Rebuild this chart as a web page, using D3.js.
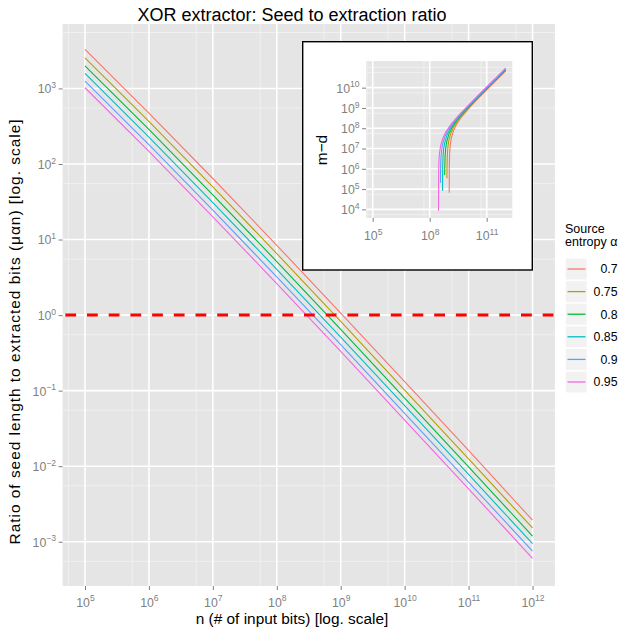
<!DOCTYPE html>
<html><head><meta charset="utf-8">
<script src="https://cdn.jsdelivr.net/npm/d3@7"></script>
<style>
body{margin:0;background:#fff}
text{font-family:"Liberation Sans",Arial,Helvetica,sans-serif}
</style>
</head><body>
<svg id="c" width="620" height="631"></svg>
<script>
// ---------------- DATA ----------------
const alphas = ["0.7", "0.75", "0.8", "0.85", "0.9", "0.95"];
const colors = ["#F8766D", "#B79F00", "#00BA38", "#00BFC4", "#619CFF", "#F564E3"];
// n values of the main plot, as log10(n)
const nExp = [5, 6, 7, 8, 9, 10, 11, 12];
// main series: log10 of seed/extracted ratio, read at each n
const ratioExp070 = [3.516, 2.674, 1.808, 0.924, 0.027, -0.882, -1.792, -2.715];
const ratioExp075 = [3.406, 2.564, 1.698, 0.814, -0.083, -0.992, -1.902, -2.818];
const ratioExp080 = [3.300, 2.458, 1.592, 0.708, -0.189, -1.098, -2.008, -2.926];
const ratioExp085 = [3.198, 2.356, 1.490, 0.606, -0.291, -1.200, -2.110, -3.025];
const ratioExp090 = [3.098, 2.256, 1.390, 0.506, -0.391, -1.300, -2.210, -3.124];
const ratioExp095 = [3.009, 2.167, 1.301, 0.417, -0.480, -1.389, -2.299, -3.220];
const refLine = 1;
// inset series: log10(n) and log10(m-d)
const insetN070  = [9.0291, 9.0345, 9.051, 9.0845, 9.140, 9.251, 9.417, 9.694, 10.134, 10.5, 11, 11.5, 12];
const insetMD070 = [4.82, 6.167, 6.776, 7.189, 7.516, 7.870, 8.196, 8.577, 9.057, 9.422, 9.895, 10.361, 10.826];
const insetN075  = [8.9076, 8.913, 8.9295, 8.963, 9.0185, 9.1295, 9.2955, 9.5725, 10.0125, 10.5, 11, 11.5, 12];
const insetMD075 = [5.53, 6.087, 6.696, 7.109, 7.436, 7.790, 8.116, 8.497, 8.977, 9.457, 9.927, 10.392, 10.856];
const insetN080  = [8.7901, 8.7955, 8.812, 8.8455, 8.901, 9.012, 9.178, 9.455, 9.895, 10.5, 11, 11.5, 12];
const insetMD080 = [5.69, 6.009, 6.618, 7.031, 7.358, 7.712, 8.038, 8.419, 8.899, 9.488, 9.956, 10.420, 10.884];
const insetN085  = [8.6771, 8.6825, 8.699, 8.7325, 8.788, 8.899, 9.065, 9.342, 9.782, 10.5, 11, 11.5, 12];
const insetMD085 = [4.92, 5.933, 6.542, 6.955, 7.282, 7.636, 7.962, 8.343, 8.823, 9.517, 9.983, 10.447, 10.911];
const insetN090  = [8.5661, 8.5715, 8.588, 8.6215, 8.677, 8.788, 8.954, 9.231, 9.671, 10.5, 11, 11.5, 12];
const insetMD090 = [5.31, 5.858, 6.467, 6.880, 7.207, 7.561, 7.887, 8.268, 8.748, 9.544, 10.009, 10.472, 10.935];
const insetN095  = [8.4661, 8.4715, 8.488, 8.5215, 8.577, 8.688, 8.854, 9.131, 9.571, 10.5, 11, 11.5, 12];
const insetMD095 = [3.93, 5.793, 6.402, 6.815, 7.142, 7.496, 7.822, 8.203, 8.683, 9.569, 10.033, 10.496, 10.959];
// ticks (exponents)
const xTickExp = [5, 6, 7, 8, 9, 10, 11, 12];
const yTickExp = [-3, -2, -1, 0, 1, 2, 3];
const insetXTickExp = [5, 8, 11];
const insetYTickExp = [4, 5, 6, 7, 8, 9, 10];
const titleText = "XOR extractor: Seed to extraction ratio";
const xTitle = "n (# of input bits) [log. scale]";
const yTitle = "Ratio of seed length to extracted bits (\u03BC\u03B1n) [log. scale]";
const insetYTitle = "m\u2212d";
const legendTitle = ["Source", "entropy \u03B1"];

// ---------------- DRAW ----------------
const p10 = e => Math.pow(10, e);
const ratioSeries = [ratioExp070, ratioExp075, ratioExp080, ratioExp085, ratioExp090, ratioExp095];
const insetNs = [insetN070, insetN075, insetN080, insetN085, insetN090, insetN095];
const insetMDs = [insetMD070, insetMD075, insetMD080, insetMD085, insetMD090, insetMD095];

const svg = d3.select("#c");
const GRID_BG = "#E5E5E5", MINOR = "#F2F2F2", AXIS_TXT = "#7F7F7F";

function expLabel(sel, e, size) {
  sel.text(null);
  sel.append("tspan").text("10");
  sel.append("tspan").attr("dy", -size * 0.42).attr("font-size", size * 0.7)
     .text(e < 0 ? "\u2212" + Math.abs(e) : String(e));
}

function panel(g, P, xs, ys, xMaj, yMaj, xMin, yMin) {
  g.append("rect").attr("x", P.l).attr("y", P.t).attr("width", P.r - P.l).attr("height", P.b - P.t).attr("fill", GRID_BG);
  g.selectAll("line.xmin").data(xMin).join("line").attr("x1", d => xs(d)).attr("x2", d => xs(d))
    .attr("y1", P.t).attr("y2", P.b).attr("stroke", MINOR).attr("stroke-width", 0.9);
  g.selectAll("line.ymin").data(yMin).join("line").attr("y1", d => ys(d)).attr("y2", d => ys(d))
    .attr("x1", P.l).attr("x2", P.r).attr("stroke", MINOR).attr("stroke-width", 0.9);
  g.selectAll("line.xmaj").data(xMaj).join("line").attr("x1", d => xs(d)).attr("x2", d => xs(d))
    .attr("y1", P.t).attr("y2", P.b).attr("stroke", "#fff").attr("stroke-width", 1.6);
  g.selectAll("line.ymaj").data(yMaj).join("line").attr("y1", d => ys(d)).attr("y2", d => ys(d))
    .attr("x1", P.l).attr("x2", P.r).attr("stroke", "#fff").attr("stroke-width", 1.6);
}

function axes(g, P, xs, ys, xT, yT, fs, xLabY) {
  const ax = g.append("g").attr("transform", `translate(0,${P.b})`)
    .call(d3.axisBottom(xs).tickValues(xT.map(p10)).tickSize(4).tickFormat(""));
  ax.select(".domain").remove();
  ax.selectAll(".tick line").attr("stroke", AXIS_TXT);
  ax.selectAll(".tick").append("text").attr("y", xLabY - P.b).attr("text-anchor", "middle")
    .attr("fill", AXIS_TXT).attr("font-size", fs)
    .each(function(d) { expLabel(d3.select(this), Math.round(Math.log10(d)), fs); });
  const ay = g.append("g").attr("transform", `translate(${P.l},0)`)
    .call(d3.axisLeft(ys).tickValues(yT.map(p10)).tickSize(4).tickFormat(""));
  ay.select(".domain").remove();
  ay.selectAll(".tick line").attr("stroke", AXIS_TXT);
  ay.selectAll(".tick").append("text").attr("x", -6.5).attr("y", fs * 0.36).attr("text-anchor", "end")
    .attr("fill", AXIS_TXT).attr("font-size", fs)
    .each(function(d) { expLabel(d3.select(this), Math.round(Math.log10(d)), fs); });
}

// ---- main panel ----
const P = { l: 62.6, r: 554.9, t: 24, b: 586 };
const x = d3.scaleLog().domain([p10(4.65), p10(12.35)]).range([P.l, P.r]);
const y = d3.scaleLog().domain([p10(-3.586), p10(3.853)]).range([P.b, P.t]);
const main = svg.append("g");
const inDom = (s, v) => { const d = s.domain(); return v >= d[0] && v <= d[1]; };
const xMinor = d3.range(4, 13).map(k => 5.5 * p10(k)).filter(v => inDom(x, v));
const yMinor = d3.range(-4, 4).map(k => 5.5 * p10(k)).filter(v => inDom(y, v));
panel(main, P, x, y, xTickExp.map(p10), yTickExp.map(p10), xMinor, yMinor);
axes(main, P, x, y, xTickExp, yTickExp, 12.3, 606.5);

svg.append("defs").append("clipPath").attr("id", "clipMain").append("rect")
  .attr("x", P.l).attr("y", P.t).attr("width", P.r - P.l).attr("height", P.b - P.t);
const lineMain = d3.line().x(d => x(p10(d[0]))).y(d => y(p10(d[1])));
const lg = main.append("g").attr("clip-path", "url(#clipMain)");
ratioSeries.forEach((s, i) => {
  lg.append("path").attr("d", lineMain(nExp.map((n, j) => [n, s[j]])))
    .attr("fill", "none").attr("stroke", colors[i]).attr("stroke-width", 1.1);
});
lg.append("line").attr("x1", P.l).attr("x2", P.r).attr("y1", y(refLine)).attr("y2", y(refLine))
  .attr("stroke", "#FF0000").attr("stroke-width", 3).attr("stroke-dasharray", "10.8,10.9")
  .attr("stroke-dashoffset", -2.7);

// titles
svg.append("text").attr("x", 292).attr("y", 21).attr("text-anchor", "middle").attr("font-size", 18).text(titleText);
svg.append("text").attr("x", 292).attr("y", 624).attr("text-anchor", "middle").attr("font-size", 15.4).text(xTitle);
svg.append("text").attr("transform", "translate(20,332) rotate(-90)").attr("text-anchor", "middle")
  .attr("font-size", 15.4).attr("textLength", 425).attr("lengthAdjust", "spacing").text(yTitle);

// ---- legend ----
const leg = svg.append("g");
leg.append("text").attr("x", 565).attr("y", 233).attr("font-size", 12.5).text(legendTitle[0]);
leg.append("text").attr("x", 565).attr("y", 246).attr("font-size", 12.5).text(legendTitle[1]);
alphas.forEach((a, i) => {
  const cy = 269 + i * 22.6;
  leg.append("rect").attr("x", 565.5).attr("y", cy - 10.8).attr("width", 21.5).attr("height", 21.6)
    .attr("fill", "#F2F2F2").attr("stroke", "#fff").attr("stroke-width", 0.6);
  leg.append("line").attr("x1", 567.5).attr("x2", 585.5).attr("y1", cy).attr("y2", cy)
    .attr("stroke", colors[i]).attr("stroke-width", 1.3);
  leg.append("text").attr("x", 617.5).attr("y", cy + 4.4).attr("text-anchor", "end")
    .attr("font-size", 12.3).text(a);
});

// ---- inset ----
const ins = svg.append("g");
ins.append("rect").attr("x", 302.7).attr("y", 41.7).attr("width", 229.6).attr("height", 228.3)
  .attr("fill", "#fff").attr("stroke", "#000").attr("stroke-width", 1.4);
const IP = { l: 366.05, r: 512.3, t: 61.1, b: 217.9 };
const xi = d3.scaleLog().domain([p10(4.65), p10(12.35)]).range([IP.l, IP.r]);
const yi = d3.scaleLog().domain([p10(3.579), p10(11.31)]).range([IP.b, IP.t]);
const ixMinor = [p10(4.7), p10(7.7), p10(10.7)].filter(v => inDom(xi, v));
const iyMinor = d3.range(3, 11).map(k => 5.5 * p10(k)).concat([p10(11)]).filter(v => inDom(yi, v));
panel(ins, IP, xi, yi, insetXTickExp.map(p10), insetYTickExp.map(p10), ixMinor, iyMinor);
axes(ins, IP, xi, yi, insetXTickExp, insetYTickExp, 12.3, 240);
svg.append("defs").append("clipPath").attr("id", "clipIns").append("rect")
  .attr("x", IP.l).attr("y", IP.t).attr("width", IP.r - IP.l).attr("height", IP.b - IP.t);
const lineIns = d3.line().x(d => xi(p10(d[0]))).y(d => yi(p10(d[1])));
const ig = ins.append("g").attr("clip-path", "url(#clipIns)");
insetNs.forEach((ns, i) => {
  ig.append("path").attr("d", lineIns(ns.map((n, j) => [n, insetMDs[i][j]])))
    .attr("fill", "none").attr("stroke", colors[i]).attr("stroke-width", 1.1);
});
ins.append("text").attr("transform", "translate(326.5,150) rotate(-90)").attr("text-anchor", "middle")
  .attr("font-size", 15.4).text(insetYTitle);
</script>
</body></html>
